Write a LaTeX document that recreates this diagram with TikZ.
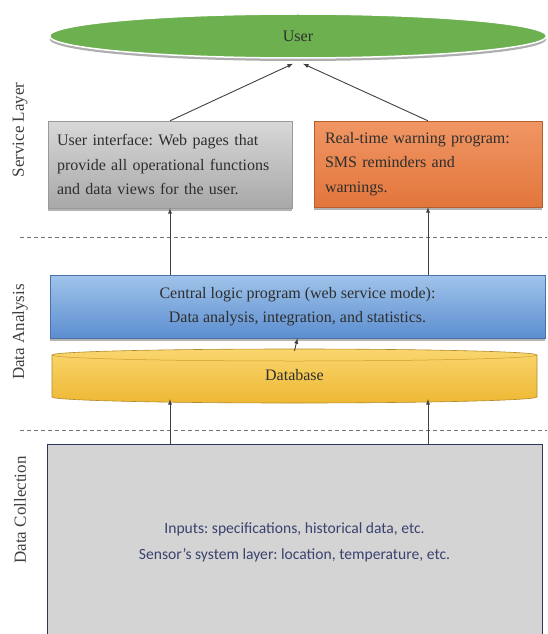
\documentclass[tikz,border=0pt]{standalone}
\usepackage{fontspec}
\setmainfont{Liberation Serif}
\newfontfamily\sensorfont{Carlito}
\usetikzlibrary{shapes.geometric,shadows}
\frenchspacing

\definecolor{usergreen}{RGB}{108,176,80}
\definecolor{uitop}{RGB}{216,216,216}
\definecolor{uibot}{RGB}{168,168,168}
\definecolor{warntop}{RGB}{240,150,100}
\definecolor{warnbot}{RGB}{226,118,60}
\definecolor{logictop}{RGB}{160,196,234}
\definecolor{logicbot}{RGB}{92,142,208}
\definecolor{dbtop}{RGB}{250,214,110}
\definecolor{dbbot}{RGB}{238,184,52}
\definecolor{inputgray}{RGB}{212,212,212}
\definecolor{inputtext}{RGB}{58,66,110}

\begin{document}
\begin{tikzpicture}[x=1pt,y=-1pt,
  txt/.style={font=\fontsize{16}{24.5}\selectfont,text=black!82},
  side/.style={font=\fontsize{17}{20}\selectfont,rotate=90,text=black!75},
  shade/.style={drop shadow={shadow xshift=0pt,shadow yshift=-2.5pt,opacity=0.6}},
  arr/.style={-latex,line width=0.9pt,draw=black!75},
  sep/.style={draw=black!55,line width=0.8pt,dash pattern=on 4pt off 3pt}]
  \useasboundingbox (0,0) rectangle (547,634);

  % layer separators
  \draw[sep] (20,237) -- (547,237);
  \draw[sep] (20,430) -- (547,430);

  \node[side] (svc) at (20,130) {Service Layer};
  \node[side] (ana) at (20,332) {Data Analysis};
  \node[side] (col) at (20,510) {Data Collection};

  \node[txt,ellipse,fill=usergreen,draw=white,line width=1.5pt,
        minimum width=497pt,minimum height=44pt,
        drop shadow={shadow xshift=0pt,shadow yshift=-3pt,fill=black!45,opacity=0.7}]
    (user) at (298,36) {User};

  \node[txt,shade,top color=uitop,bottom color=uibot,draw=black!40,
        minimum width=244pt,minimum height=87pt,text width=226pt,align=left]
    (ui) at (170,164.5) {User interface: Web pages that\\provide all operational functions\\and data views for the user.};
  \node[txt,shade,top color=warntop,bottom color=warnbot,draw=warnbot!80!black,
        minimum width=228pt,minimum height=86pt,text width=206pt,align=left]
    (warn) at (428,164) {Real-time warning program:\\SMS reminders and\\warnings.};

  \node[txt,shade,top color=logictop,bottom color=logicbot,draw=logicbot!80!black,
        minimum width=495pt,minimum height=63pt,align=center]
    (logic) at (297.5,306.5) {Central logic program (web service mode):\\Data analysis, integration, and statistics.};

  % database drum
  \draw[top color=dbtop,bottom color=dbbot,draw=dbbot!75!black,line width=0.6pt]
    (52,355) -- (52,397) arc[start angle=180,end angle=360,x radius=242.5pt,y radius=6pt]
    -- (537,355) arc[start angle=0,end angle=180,x radius=242.5pt,y radius=6pt] -- cycle;
  \draw[dbbot!85!black,line width=0.5pt]
    (52,355) arc[start angle=180,end angle=360,x radius=242.5pt,y radius=6pt];
  \node[txt,minimum width=485pt,minimum height=48pt] (db) at (294.5,375) {Database};

  \node[fill=inputgray,draw=inputtext!80!black,line width=1pt,
        minimum width=495pt,minimum height=196pt,align=center,
        font=\sensorfont\fontsize{15.6}{26}\selectfont,text=inputtext]
    (inbox) at (294.5,542) {Inputs: specifications, historical data, etc.\\Sensor’s system layer: location, temperature, etc.};

  \draw[arr] (ui.north) -- ([xshift=-5pt,yshift=-5pt]user.south);
  \draw[arr] (warn.north) -- ([xshift=5pt,yshift=-5pt]user.south);
  \draw[arr] (logic.north -| ui.south) -- (ui.south);
  \draw[arr] (logic.north -| warn.south) -- (warn.south);
  \draw[arr] (db.north) -- (logic.south);
  \draw[arr] (inbox.north -| ui.south) -- (db.south -| ui.south);
  \draw[arr] (inbox.north -| warn.south) -- (db.south -| warn.south);
\end{tikzpicture}
\end{document}
